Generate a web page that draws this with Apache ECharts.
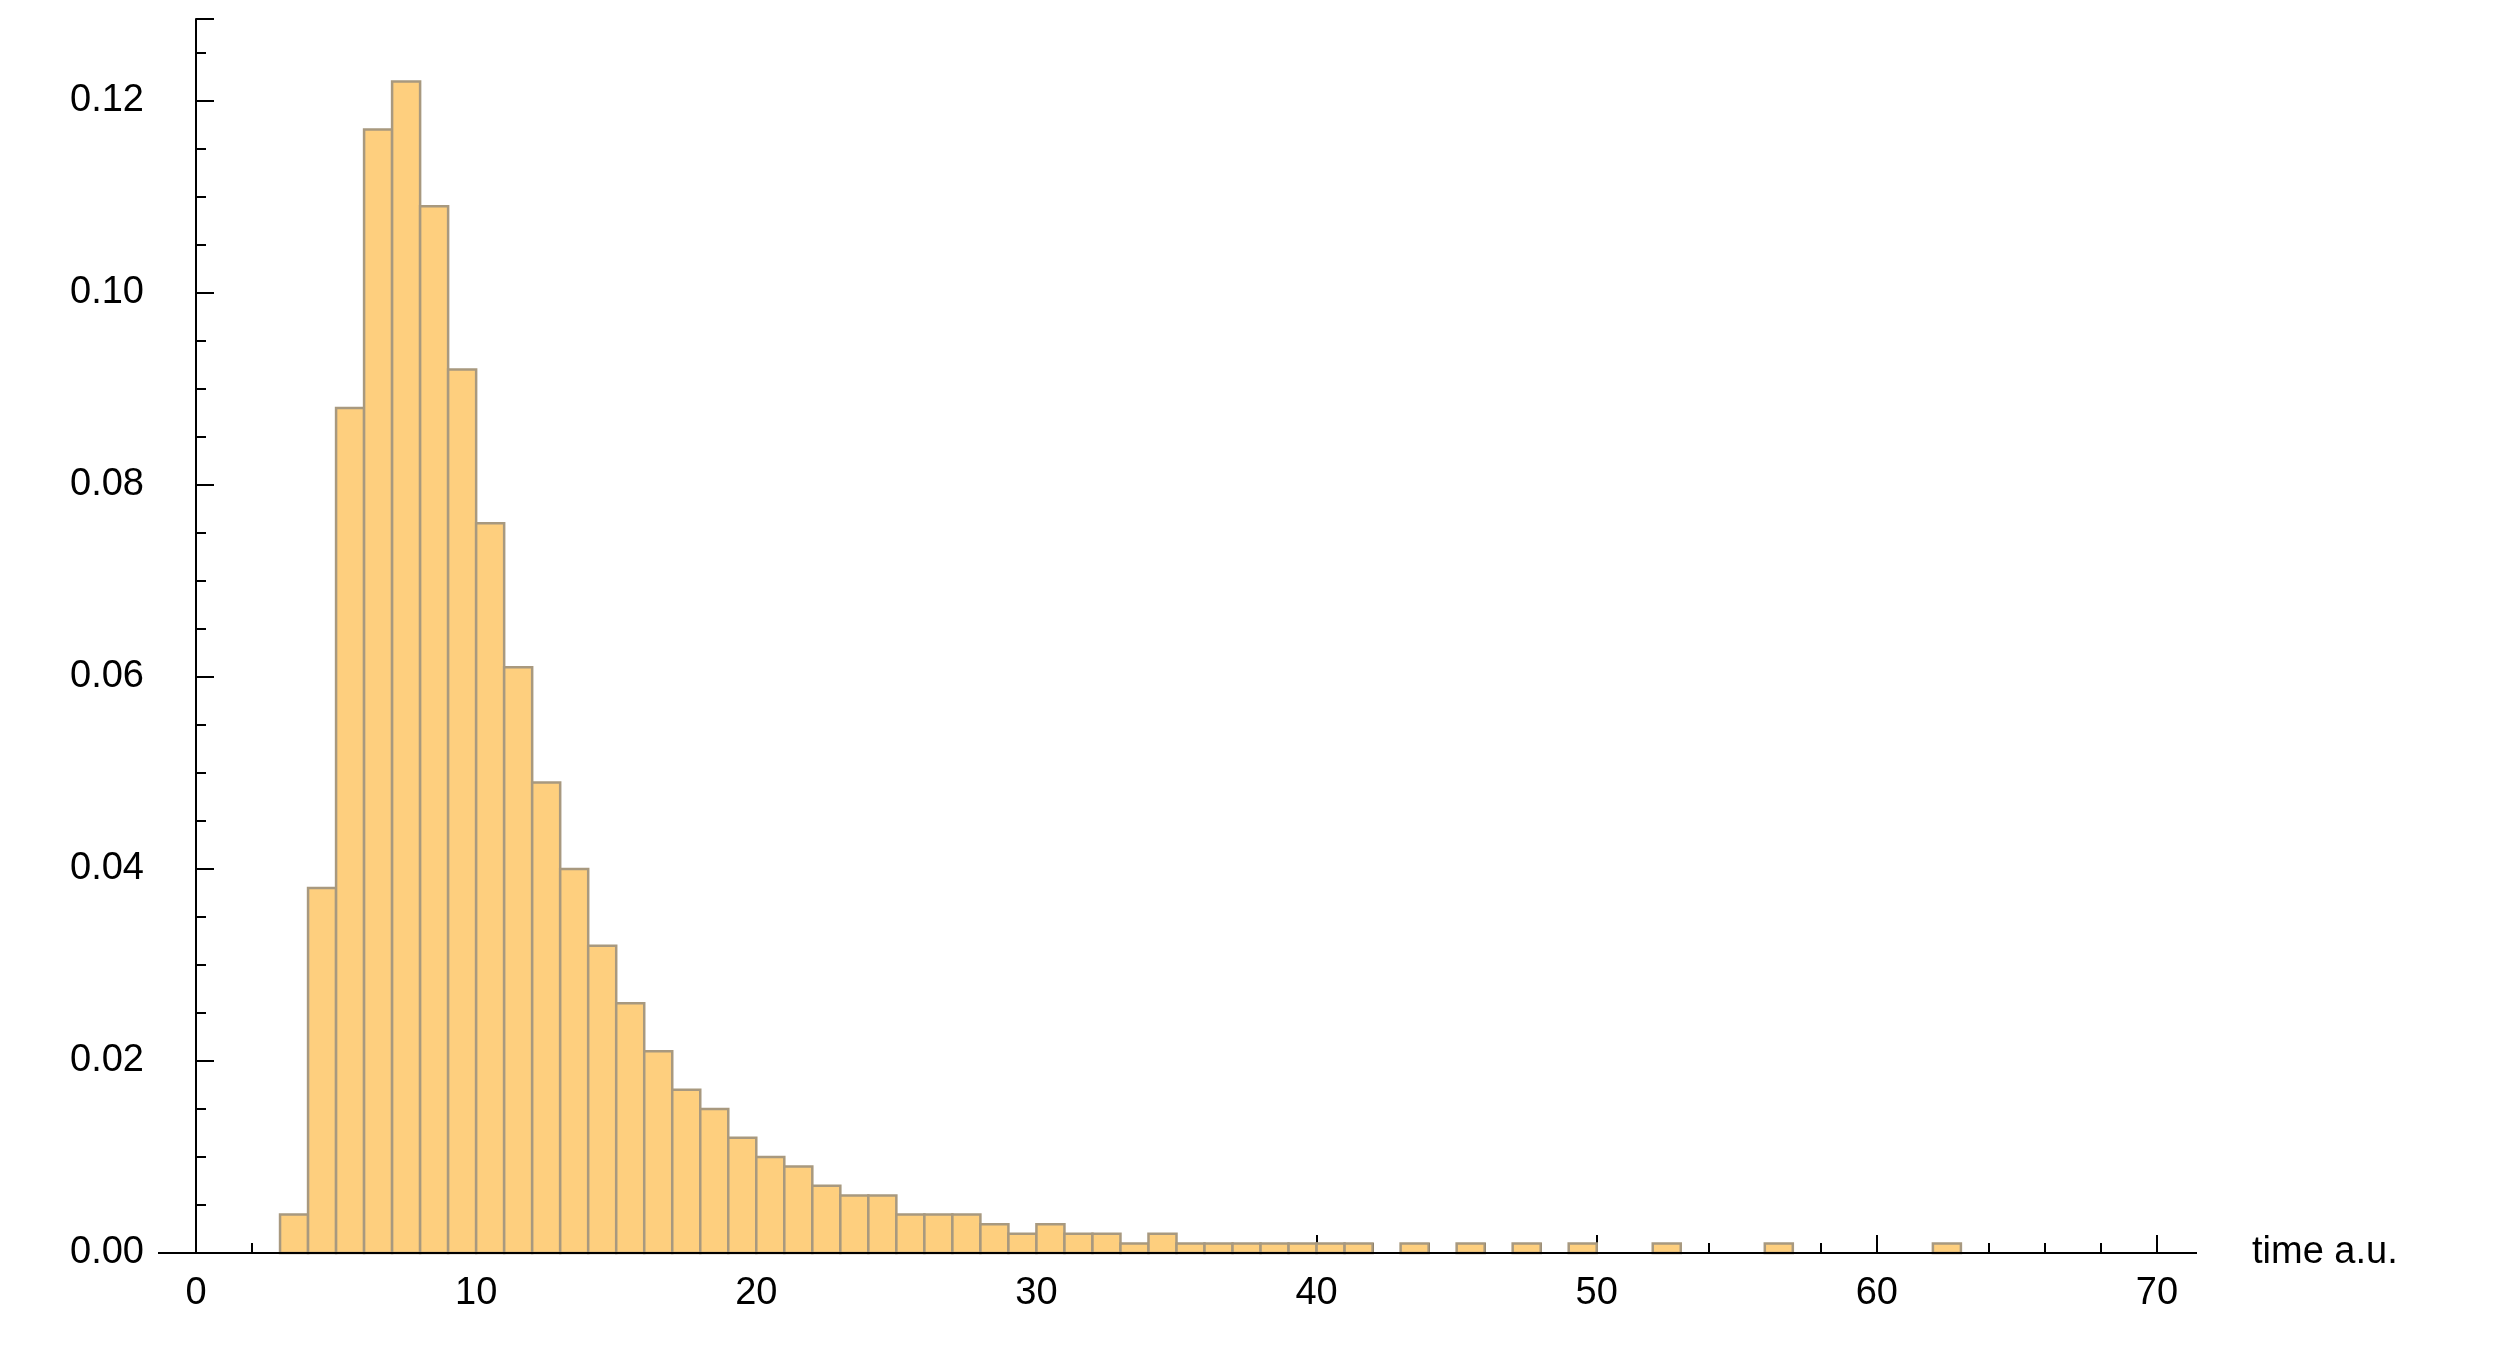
<!DOCTYPE html>
<html>
<head>
<meta charset="utf-8">
<script src="https://cdn.jsdelivr.net/npm/echarts@6/dist/echarts.min.js"></script>
<style>html,body{margin:0;background:#fff}#c{width:2500px;height:1351px}</style>
</head>
<body>
<div id="c"></div>
<script>
// histogram bins: left edge, width 1
var binStarts = [3,4,5,6,7,8,9,10,11,12,13,14,15,16,17,18,19,20,21,22,23,24,25,26,27,28,29,30,31,32,33,34,35,36,37,38,39,40,41,43,45,47,49,52,56,62];
var binValues = [0.004,0.038,0.088,0.117,0.122,0.109,0.092,0.076,0.061,0.049,0.040,0.032,0.026,0.021,0.017,0.015,0.012,0.010,0.009,0.007,0.006,0.006,0.004,0.004,0.004,0.003,0.002,0.003,0.002,0.002,0.001,0.002,0.001,0.001,0.001,0.001,0.001,0.001,0.001,0.001,0.001,0.001,0.001,0.001,0.001,0.001];
var binWidth = 1;

var data = binStarts.map(function (s, i) { return [s, s + binWidth, binValues[i]]; });
var chart = echarts.init(document.getElementById('c'));
var axisFont = { fontFamily: 'Liberation Sans, Arial', fontSize: 38, color: '#000' };

chart.setOption({
  animation: false,
  grid: { left: 196, right: 343, top: 19, bottom: 98 },
  xAxis: {
    type: 'value', min: 0, max: 70, interval: 10,
    name: 'time a.u.', nameLocation: 'end', nameGap: 95,
    nameTextStyle: axisFont,
    axisLine: { show: false },
    axisTick: { inside: true, length: 18, lineStyle: { color: '#000', width: 2 } },
    minorTick: { show: true, splitNumber: 5, length: 10, lineStyle: { color: '#000', width: 2 } },
    axisLabel: Object.assign({ margin: 22 }, axisFont),
    splitLine: { show: false }
  },
  yAxis: {
    type: 'value', min: 0, max: 0.1285, interval: 0.02, offset: 38,
    axisLine: { show: true, lineStyle: { color: '#000', width: 2 } },
    axisTick: { inside: true, length: 18, lineStyle: { color: '#000', width: 2 } },
    minorTick: { show: true, splitNumber: 4, length: 10, lineStyle: { color: '#000', width: 2 } },
    axisLabel: Object.assign({ margin: 14, formatter: function (v) { return v.toFixed(2); }, showMaxLabel: false }, axisFont),
    splitLine: { show: false }
  },
  graphic: [{
    type: 'line', z: 10,
    shape: { x1: 158, y1: 1253, x2: 2197, y2: 1253 },
    style: { stroke: '#000', lineWidth: 2 }
  }],
  series: [{
    type: 'custom',
    data: data,
    renderItem: function (params, api) {
      var p0 = api.coord([api.value(0), api.value(2)]);
      var p1 = api.coord([api.value(1), 0]);
      return {
        type: 'rect',
        shape: { x: p0[0], y: p0[1], width: p1[0] - p0[0], height: p1[1] - p0[1] },
        style: { fill: '#FECF7E', stroke: '#A8997F', lineWidth: 2.5 }
      };
    }
  }]
});
</script>
</body>
</html>
